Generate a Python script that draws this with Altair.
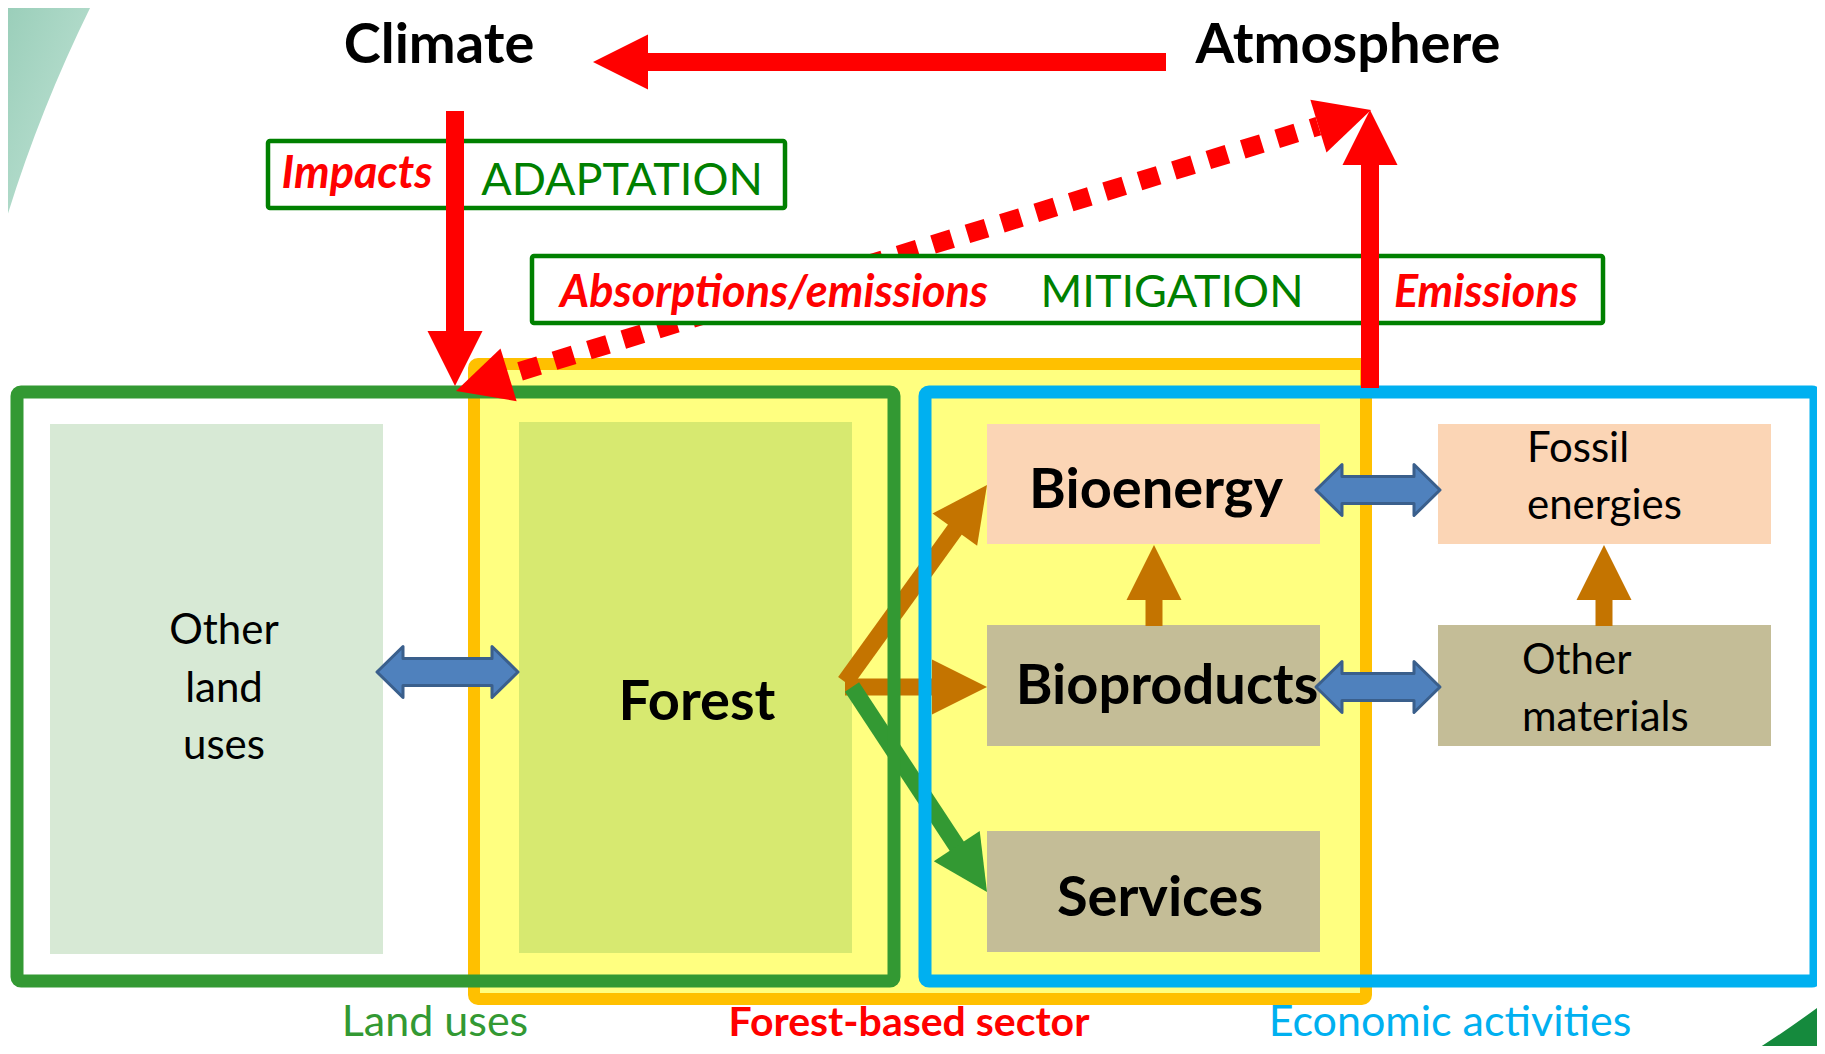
import math
import altair as alt
import pandas as pd

W, H, M = 1825, 1054, 8
FONT = "Lato"

# ---------------- diagram data (page pixels) ----------------
# filled blocks
block_name = ["Other land uses", "Forest", "Bioenergy", "Fossil energies",
              "Bioproducts", "Services", "Other materials"]
block_kind = ["land", "forest", "energy", "energy", "product", "product", "product"]
block_x1 = [50, 519, 987, 1438, 987, 987, 1438]
block_x2 = [383, 852, 1320, 1771, 1320, 1320, 1771]
block_y1 = [424, 422, 424, 424, 625, 831, 625]
block_y2 = [954, 953, 544, 544, 746, 952, 746]

# group frames
frame_name = ["Forest-based sector", "Land uses", "Economic activities"]
frame_x1 = [474, 17, 925]
frame_x2 = [1366, 894, 1816]
frame_y1 = [364, 392, 392]
frame_y2 = [999, 981, 981]

# tag boxes
tag_name = ["ADAPTATION", "MITIGATION"]
tag_x1 = [268, 532]
tag_x2 = [785, 1603]
tag_y1 = [141, 256]
tag_y2 = [208, 323]

# single-headed arrows: start -> tip
arrow_name = ["Atmosphere to Climate", "Impacts", "Emissions",
              "Forest to Bioenergy", "Forest to Bioproducts", "Forest to Services",
              "Bioproducts to Bioenergy", "Other materials to Fossil energies"]
arrow_kind = ["red", "red", "red", "wood", "wood", "service", "wood", "wood"]
arrow_x0 = [1166, 455, 1370, 845, 845, 852, 1154, 1604]
arrow_y0 = [62, 111, 388, 682, 687, 687, 626, 626]
arrow_x1 = [593, 455, 1370, 987, 987, 987, 1154, 1604]
arrow_y1 = [62, 386, 110, 485, 687, 892, 545, 545]

# two-headed dotted arrow (absorptions/emissions): tips
flux_x = [456, 1371]
flux_y = [391, 110]

# blue two-way substitution arrows
swap_name = ["Other land uses - Forest", "Bioenergy - Fossil energies",
             "Bioproducts - Other materials"]
swap_x0 = [377, 1316, 1316]
swap_x1 = [518, 1440, 1440]
swap_y = [672, 490, 687]

# texts
title_text = ["Climate", "Atmosphere"]
title_x = [439, 1348]
title_y = [63, 63]

red_text = ["Impacts", "Absorptions/emissions", "Emissions"]
red_x = [357, 774, 1486]
red_y = [188, 307, 307]

green_text = ["ADAPTATION", "MITIGATION"]
green_x = [622, 1172]
green_y = [195, 307]

block_text = ["Forest", "Bioenergy", "Bioproducts", "Services"]
block_tx = [697, 1156, 1167, 1160]
block_ty = [720, 508, 704, 916]

land_text = ["Other", "land", "uses"]
land_x = [224, 224, 224]
land_y = [644, 702, 759]

alt_text = ["Fossil", "energies", "Other", "materials"]
alt_x = [1527, 1527, 1522, 1522]
alt_y = [462, 519, 674, 731]

foot_text = ["Land uses", "Forest-based sector", "Economic activities"]
foot_x = [435, 909, 1450]
foot_y = [1036, 1036, 1036]

# ---------------- helpers ----------------
xs = alt.Scale(domain=[M, W - M], nice=False, zero=False)
ys = alt.Scale(domain=[M, H - M], nice=False, zero=False, reverse=True)


def X(f):
    return alt.X(f, type="quantitative", scale=xs, axis=None)


def Y(f):
    return alt.Y(f, type="quantitative", scale=ys, axis=None)


def rect_layer(df, **kw):
    return alt.Chart(df).mark_rect(**kw).encode(
        x=X("x1"), x2=alt.X2("x2"), y=Y("y1"), y2=alt.Y2("y2"))


def rule_layer(df, color, width, **kw):
    return alt.Chart(df).mark_rule(color=color, strokeWidth=width, strokeCap="butt", **kw).encode(
        x=X("x"), y=Y("y"), x2=alt.X2("x2"), y2=alt.Y2("y2"))


def point_layer(df, path, **kw):
    enc = dict(x=X("x"), y=Y("y"))
    if "ang" in df.columns:
        enc["angle"] = alt.Angle("ang:Q", scale=None)
    return alt.Chart(df).mark_point(shape=path, size=4, opacity=1, **kw).encode(**enc)


def text_layer(t, x, y, size, color, weight="normal", style="normal", align="center"):
    df = pd.DataFrame(dict(t=t, x=x, y=y))
    return alt.Chart(df).mark_text(font=FONT, fontSize=size, color=color, fontWeight=weight,
                                   fontStyle=style, align=align, baseline="alphabetic").encode(
        x=X("x"), y=Y("y"), text="t:N")


HEAD_LEN, HEAD_HALF = 55, 27.5
HEAD_PATH = f"M0,0 L{HEAD_HALF},{HEAD_LEN} L{-HEAD_HALF},{HEAD_LEN} Z"


def arrow_parts(x0, y0, x1, y1):
    """shaft (start -> just inside head) and head (tip + angle)"""
    dx, dy = x1 - x0, y1 - y0
    L = math.hypot(dx, dy)
    ux, uy = dx / L, dy / L
    bx, by = x1 - ux * (HEAD_LEN - 3), y1 - uy * (HEAD_LEN - 3)
    ang = math.degrees(math.atan2(dx, -dy)) % 360
    return (x0, y0, bx, by), (x1, y1, ang)


layers = []

# background corner decorations
corner = pd.DataFrame(dict(x=[0], y=[0]))
layers.append(point_layer(corner, "M0,0 L94,0 Q36,116 0,240 Z", filled=True,
                          fill=alt.Gradient(gradient="linear",
                                            stops=[alt.GradientStop(color="#98cdb8", offset=0),
                                                   alt.GradientStop(color="#c6e6d9", offset=1)],
                                            x1=0, y1=0, x2=1, y2=1),
                          strokeWidth=0))
corner2 = pd.DataFrame(dict(x=[W], y=[H]))
layers.append(point_layer(corner2, "M0,0 L-76,0 Q-40,-22 0,-52 Z", filled=True,
                          fill="#158a3d", strokeWidth=0))

frames = pd.DataFrame(dict(name=frame_name, x1=frame_x1, x2=frame_x2, y1=frame_y1, y2=frame_y2))
blocks = pd.DataFrame(dict(name=block_name, kind=block_kind, x1=block_x1, x2=block_x2,
                           y1=block_y1, y2=block_y2))

# forest-based sector (yellow with orange border)
layers.append(rect_layer(frames[frames.name == "Forest-based sector"],
                         fill="#ffff80", stroke="#ffc000", strokeWidth=12, cornerRadius=4))

# blocks
block_colors = {"land": "#d7e9d5", "forest": "#d7e970", "energy": "#fbd5b5", "product": "#c4bd97"}
for k, c in block_colors.items():
    layers.append(rect_layer(blocks[blocks.kind == k], fill=c, strokeWidth=0))

# block labels
layers.append(text_layer(block_text, block_tx, block_ty, 56, "black", weight="bold"))
layers.append(text_layer(land_text, land_x, land_y, 42, "black"))
layers.append(text_layer(alt_text, alt_x, alt_y, 42, "black", align="left"))

# single arrows
arrow_style = {"red": ("#ff0000", 18), "wood": ("#c47400", 17), "service": ("#339933", 17)}
shafts, heads = {}, {}
for name, kind, x0, y0, x1, y1 in zip(arrow_name, arrow_kind, arrow_x0, arrow_y0, arrow_x1, arrow_y1):
    s, h = arrow_parts(x0, y0, x1, y1)
    shafts.setdefault(kind, []).append(s)
    heads.setdefault(kind, []).append(h)


def flow_layers(kind):
    color, width = arrow_style[kind]
    sdf = pd.DataFrame(shafts[kind], columns=["x", "y", "x2", "y2"])
    hdf = pd.DataFrame(heads[kind], columns=["x", "y", "ang"])
    return [rule_layer(sdf, color, width),
            point_layer(hdf, HEAD_PATH, filled=True, color=color, strokeWidth=0)]


layers += flow_layers("wood")
layers += flow_layers("service")

# land-use and economic frames on top of flows
for name, col in [("Land uses", "#339933"), ("Economic activities", "#00b0f0")]:
    layers.append(rect_layer(frames[frames.name == name], fill="transparent", stroke=col,
                             strokeWidth=13, cornerRadius=4))

# blue two-way arrows
for name, x0, x1, y in zip(swap_name, swap_x0, swap_x1, swap_y):
    half = (x1 - x0) / 2
    hl, hh, sh = 26, 25.5, 13.5
    a = half - hl
    path = (f"M{-half},0 L{-a},{-hh} L{-a},{-sh} L{a},{-sh} L{a},{-hh} L{half},0 "
            f"L{a},{hh} L{a},{sh} L{-a},{sh} L{-a},{hh} Z")
    df = pd.DataFrame(dict(x=[(x0 + x1) / 2], y=[y]))
    layers.append(point_layer(df, path, filled=True, fill="#4f81bd", stroke="#3a5f8c",
                              strokeWidth=3, strokeJoin="round"))

# dotted absorption / emission arrow
dx, dy = flux_x[1] - flux_x[0], flux_y[1] - flux_y[0]
Lf = math.hypot(dx, dy)
ux, uy = dx / Lf, dy / Lf
fb0 = (flux_x[0] + ux * HEAD_LEN, flux_y[0] + uy * HEAD_LEN)
fb1 = (flux_x[1] - ux * HEAD_LEN, flux_y[1] - uy * HEAD_LEN)
dash_df = pd.DataFrame(dict(x=[fb0[0]], y=[fb0[1]], x2=[fb1[0]], y2=[fb1[1]]))
layers.append(rule_layer(dash_df, "#ff0000", 19, strokeDash=[20, 16], strokeDashOffset=24))
fh = pd.DataFrame(dict(x=flux_x, y=flux_y,
                       ang=[math.degrees(math.atan2(-dx, dy)) % 360,
                            math.degrees(math.atan2(dx, -dy)) % 360]))
layers.append(point_layer(fh, HEAD_PATH, filled=True, color="#ff0000", strokeWidth=0))

# tag boxes
tags = pd.DataFrame(dict(name=tag_name, x1=tag_x1, x2=tag_x2, y1=tag_y1, y2=tag_y2))
layers.append(rect_layer(tags, fill="white", stroke="#008000", strokeWidth=4.5, cornerRadius=2))

# red arrows
layers += flow_layers("red")

# texts
layers.append(text_layer(title_text, title_x, title_y, 56, "black", weight="bold"))
layers.append(text_layer(red_text, red_x, red_y, 45, "#ff0000", weight="bold", style="italic"))
layers.append(text_layer(green_text, green_x, green_y, 45, "#008000"))
layers.append(text_layer(foot_text[:1], foot_x[:1], foot_y[:1], 43, "#339933"))
layers.append(text_layer(foot_text[1:2], foot_x[1:2], foot_y[1:2], 41, "#ff0000", weight="bold"))
layers.append(text_layer(foot_text[2:], foot_x[2:], foot_y[2:], 43, "#00b0f0"))

chart = alt.layer(*layers).properties(
    width=W - 2 * M, height=H - 2 * M, padding=0,
    autosize=alt.AutoSizeParams(type="none"), background="white",
).configure_view(strokeWidth=0)

chart.save("out.html", embed_options={"renderer": "svg", "actions": False})
